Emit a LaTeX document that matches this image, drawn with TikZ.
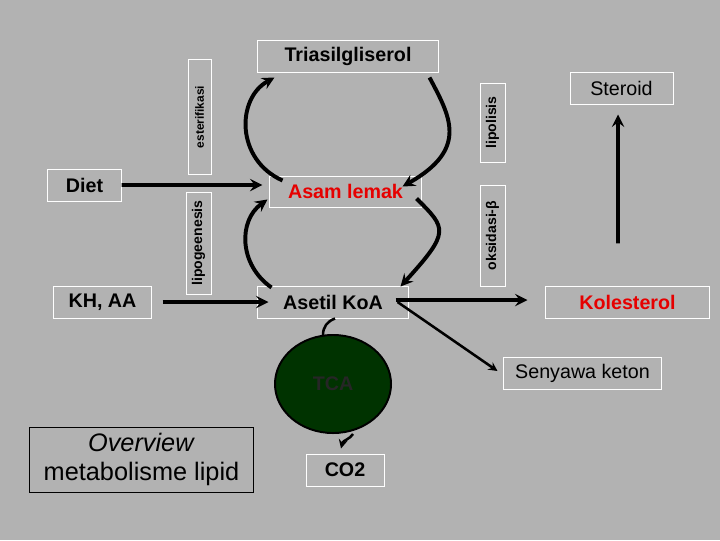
\documentclass[tikz,border=0pt]{standalone}
\usepackage{fontspec}
\setmainfont{Liberation Sans}
\usepackage{tikz}
\usetikzlibrary{shapes.geometric, arrows}
\definecolor{slide}{RGB}{178, 178, 178}
\definecolor{tcagreen}{RGB}{0, 51, 0}
\definecolor{hot}{RGB}{230, 0, 0}

\begin{document}
\begin{tikzpicture}[x=0.025cm, y=-0.025cm, >=stealth,
  box/.style={draw=white, line width=0.7pt, inner sep=0pt, minimum height=0.8cm,
    font=\fontsize{14}{16}\selectfont},
  boldbox/.style={box, font=\fontsize{14}{16}\selectfont\bfseries},
  side/.style={box, rotate=90, minimum height=0.625cm, font=\fontsize{10}{12}\selectfont\bfseries},
  flow/.style={->, line width=2.8pt},
  slim/.style={line width=1.8pt}]

  \fill [slide] (0, 0) rectangle (720, 540);

  \node [boldbox, minimum width=4.5cm] (tri) at (348, 56) {Triasilgliserol};
  \node [boldbox, minimum width=1.825cm] (diet) at (84.5, 185) {Diet};
  \node [boldbox, minimum width=2.425cm] (khaa) at (102.5, 302) {KH, AA};
  \node [boldbox, text=hot, minimum width=3.775cm, minimum height=0.775cm] (asam) at (345.5, 191.5) {Asam lemak};
  \node [boldbox, minimum width=3.75cm] (asetil) at (333, 302) {Asetil KoA};
  \node [box, minimum width=2.575cm] (steroid) at (621.5, 88) {Steroid};
  \node [boldbox, text=hot, minimum width=4.075cm] (kol) at (627.5, 302) {Kolesterol};
  \node [box, minimum width=3.925cm] (keton) at (582.5, 373) {Senyawa keton};
  \node [boldbox, minimum width=1.95cm] (co2) at (345, 470) {CO2};

  \node [side, minimum width=2.85cm, minimum height=0.575cm,
    font=\fontsize{8.5}{10}\selectfont\bfseries] (ester) at (199.5, 117) {esterifikasi};
  \node [side, minimum width=2.55cm] (lipog) at (198.5, 243) {lipogeenesis};
  \node [side, minimum width=1.975cm] (lipol) at (492.5, 122.5) {lipolisis};
  \node [side, minimum width=2.525cm] (oksi) at (492.5, 235.5) {oksidasi-β};

  \node [ellipse, draw=black, line width=1.4pt, fill=tcagreen, inner sep=0pt,
    minimum width=2.9cm, minimum height=2.45cm, text=black!85,
    font=\fontsize{14}{16}\selectfont\bfseries] (tca) at (333, 384) {TCA};

  \node [box, draw=black, minimum width=5.575cm, minimum height=1.625cm, align=center,
    font=\fontsize{18}{21}\selectfont] (overview) at (141.5, 459.5)
    {\textit{Overview}\\metabolisme lipid};

  % cycles round asam lemak
  \draw [flow] ([xshift=0.325cm, yshift=-0.125cm]asam.north west)
    .. controls +(-47, -21) and +(-38, 21) .. ([xshift=0.425cm, yshift=-0.125cm]tri.south west);
  \draw [flow] ([xshift=-0.225cm, yshift=-0.125cm]tri.south east)
    .. controls +(20, 38) and +(67, -38) .. ([xshift=-0.475cm, yshift=-0.275cm]asam.north east);
  \draw [flow] ([xshift=0.35cm, yshift=-0.05cm]asetil.north west)
    .. controls +(-33, -23) and +(-29, 21) .. ([xshift=-0.05cm, yshift=0.2cm]asam.south west);
  \draw [flow] ([xshift=-0.125cm, yshift=0.225cm]asam.south east)
    .. controls +(30, 30) and +(50, -55) .. ([xshift=-0.2cm, yshift=-0.025cm]asetil.north east);

  \draw [flow] (diet.east) -- ([xshift=-0.175cm, yshift=0.1625cm]asam.west);
  \draw [flow] ([xshift=0.275cm]khaa.east) -- ([xshift=0.275cm]asetil.west);
  \draw [flow] ([xshift=-0.325cm, yshift=0.05cm]asetil.east) -- ([xshift=-0.45cm, yshift=0.05cm]kol.west);
  \draw [flow] ([xshift=-0.2375cm, yshift=1.05cm]kol.north) -- ([xshift=-0.0875cm, yshift=-0.25cm]steroid.south);
  \draw [slim, ->] ([xshift=-0.275cm]asetil.east) -- ([xshift=-0.15cm, yshift=0.05cm]keton.west);

  \draw [slim] ([xshift=0.05cm]asetil.south)
    .. controls +(-8, 3) and +(0, -8) .. ([xshift=-0.25cm, yshift=-0.025cm]tca.north);
  \draw [slim, ->] ([xshift=0.5cm]tca.south)
    .. controls +(-3, 5) and +(2, -8) .. ([xshift=-0.1cm, yshift=0.125cm]co2.north);

\end{tikzpicture}
\end{document}
